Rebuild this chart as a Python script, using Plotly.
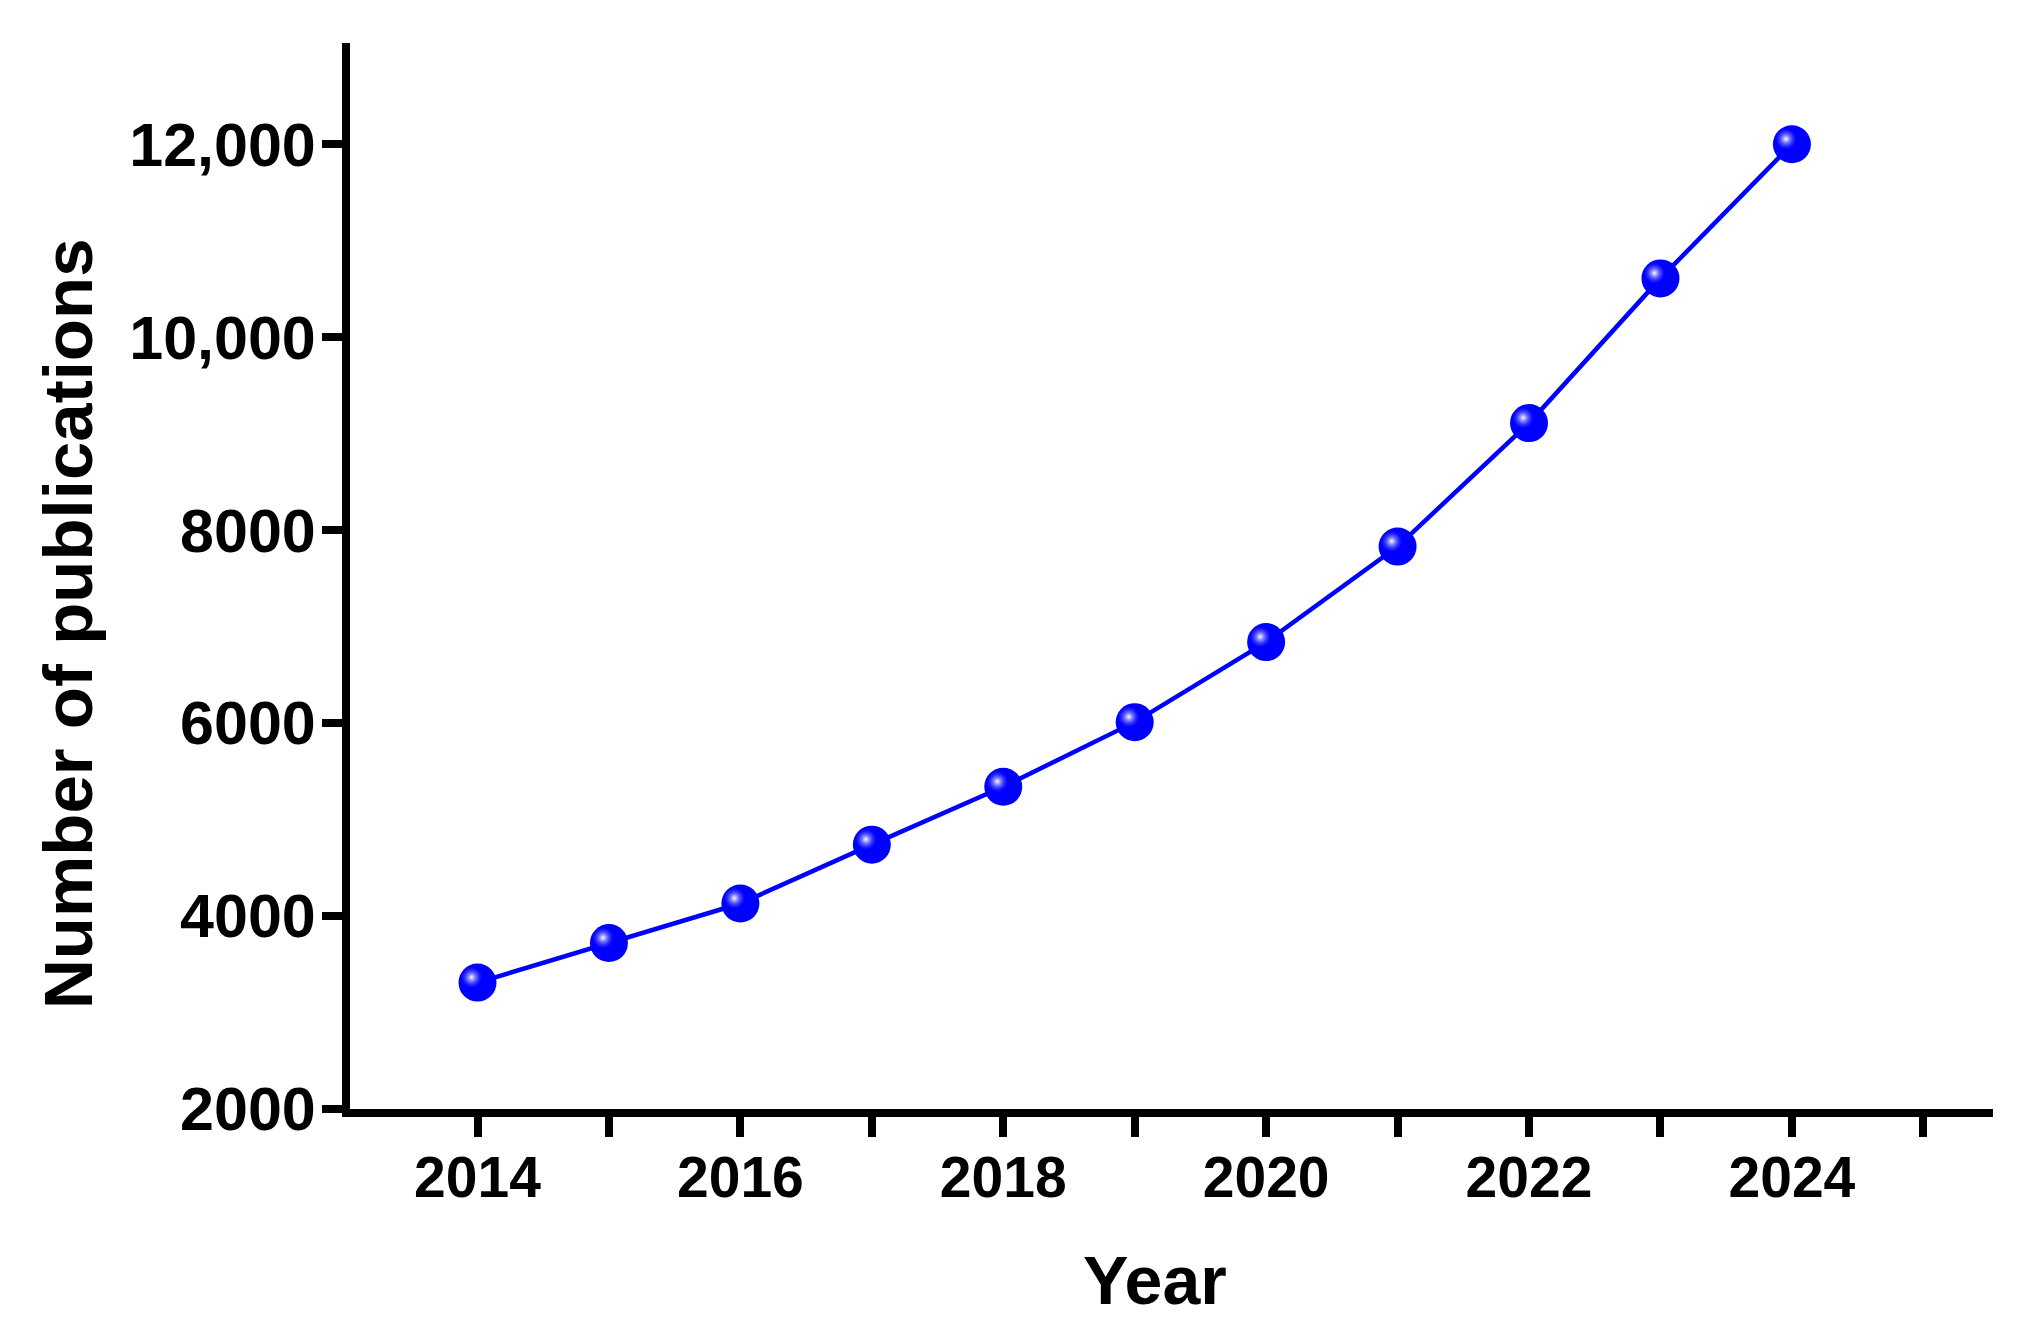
import plotly.graph_objects as go

years = [2014, 2015, 2016, 2017, 2018, 2019, 2020, 2021, 2022, 2023, 2024]
publications = [3310, 3720, 4130, 4740, 5340, 6010, 6840, 7830, 9110, 10610, 12000]

x_tickvals = [2014, 2015, 2016, 2017, 2018, 2019, 2020, 2021, 2022, 2023, 2024, 2025]
x_ticktext = ["2014", "", "2016", "", "2018", "", "2020", "", "2022", "", "2024", ""]
y_tickvals = [2000, 4000, 6000, 8000, 10000, 12000]
y_ticktext = ["2000", "4000", "6000", "8000", "10,000", "12,000"]

FONT = "Liberation Sans, Arial, sans-serif"
X_RANGE = [2013.03, 2025.53]
Y_RANGE = [2000, 13050]
# highlight offset (in data units) to fake a 3D sphere shine
DX = 0.045
DY = 55

fig = go.Figure()
fig.add_trace(go.Scatter(
    x=years, y=publications, mode="lines+markers",
    line=dict(color="#0000ff", width=4.5),
    marker=dict(size=38, color="#0000ff", line=dict(width=0)),
    cliponaxis=False, showlegend=False, hoverinfo="x+y",
))
fig.add_trace(go.Scatter(
    x=years, y=publications, mode="markers", xaxis="x2", yaxis="y2",
    marker=dict(size=21, color="rgba(90,90,255,0)", line=dict(width=0),
                gradient=dict(type="radial", color="#ffffff")),
    cliponaxis=False, showlegend=False, hoverinfo="skip",
))

axis_common = dict(
    showgrid=False, zeroline=False, showline=True, linecolor="black",
    linewidth=8, ticks="outside", ticklen=20, tickwidth=8, tickcolor="black",
)

fig.update_layout(
    width=2035, height=1334,
    margin=dict(l=342, r=50, t=35, b=233),
    paper_bgcolor="white", plot_bgcolor="white",
    xaxis=dict(range=X_RANGE, tickmode="array", tickvals=x_tickvals,
               ticktext=x_ticktext, ticklabelstandoff=-8,
               tickfont=dict(family=FONT, size=57, color="black", weight="bold"),
               **axis_common),
    yaxis=dict(range=Y_RANGE, tickmode="array", tickvals=y_tickvals,
               ticktext=y_ticktext, ticklabelstandoff=-6,
               tickfont=dict(family=FONT, size=61, color="black", weight="bold"),
               **axis_common),
    xaxis2=dict(range=[X_RANGE[0] + DX, X_RANGE[1] + DX], overlaying="x",
                visible=False),
    yaxis2=dict(range=[Y_RANGE[0] - DY, Y_RANGE[1] - DY], overlaying="y",
                visible=False),
    annotations=[
        dict(text="Year", xref="paper", yref="paper", x=0.490, y=-0.160,
             xanchor="center", yanchor="middle", showarrow=False,
             font=dict(family=FONT, size=68, color="black", weight="bold")),
        dict(text="Number of publications", xref="paper", yref="paper",
             x=-0.171, y=0.455, xanchor="center", yanchor="middle",
             textangle=-90, showarrow=False,
             font=dict(family=FONT, size=69, color="black", weight="bold")),
    ],
)

fig.write_html("out.html")
